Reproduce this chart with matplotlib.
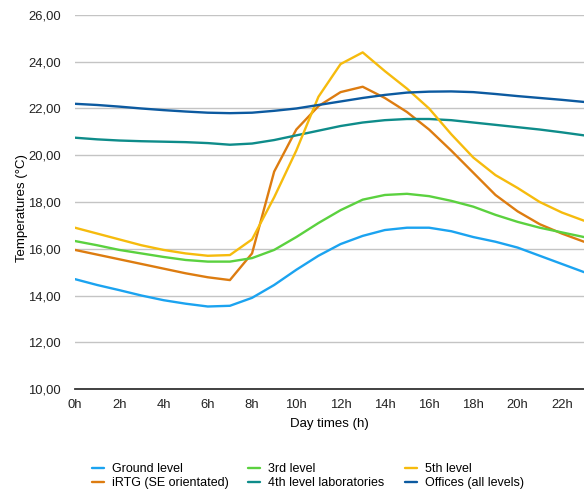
import numpy as np
import matplotlib.pyplot as plt
from matplotlib.ticker import FuncFormatter

plt.rcParams['font.family'] = ['Liberation Sans', 'DejaVu Sans']

hours = list(range(24))
ground = [14.7, 14.45, 14.23, 14.0, 13.8, 13.65, 13.53, 13.56, 13.9, 14.45, 15.1, 15.7,
          16.2, 16.55, 16.8, 16.9, 16.9, 16.75, 16.5, 16.3, 16.05, 15.7, 15.35, 15.0]
irtg = [15.95, 15.75, 15.55, 15.35, 15.15, 14.95, 14.78, 14.66, 15.8, 19.3, 21.1, 22.1,
        22.7, 22.93, 22.45, 21.85, 21.1, 20.2, 19.25, 18.3, 17.6, 17.05, 16.65, 16.3]
level3 = [16.33, 16.15, 15.95, 15.8, 15.65, 15.52, 15.45, 15.45, 15.6, 15.95, 16.5, 17.1,
          17.65, 18.1, 18.3, 18.35, 18.25, 18.05, 17.8, 17.45, 17.15, 16.9, 16.7, 16.5]
labs4 = [20.75, 20.68, 20.63, 20.6, 20.58, 20.56, 20.52, 20.45, 20.5, 20.65, 20.85, 21.05,
         21.25, 21.4, 21.5, 21.55, 21.55, 21.5, 21.4, 21.3, 21.2, 21.1, 20.98, 20.85]
level5 = [16.9, 16.65, 16.4, 16.15, 15.95, 15.8, 15.7, 15.73, 16.4, 18.2, 20.2, 22.5,
          23.9, 24.4, 23.6, 22.85, 22.0, 20.9, 19.9, 19.15, 18.6, 18.0, 17.55, 17.2]
offices = [22.2, 22.15, 22.08, 22.0, 21.93, 21.87, 21.82, 21.8, 21.82, 21.9, 22.0, 22.15,
           22.3, 22.45, 22.58, 22.68, 22.72, 22.73, 22.7, 22.62, 22.53, 22.45, 22.37, 22.28]

series = [
    ("Ground level", ground, "#1ba3f0"),
    ("iRTG (SE orientated)", irtg, "#dd7c10"),
    ("3rd level", level3, "#5bd13f"),
    ("4th level laboratories", labs4, "#0e8c8a"),
    ("5th level", level5, "#f6bb0d"),
    ("Offices (all levels)", offices, "#0c5aa0"),
]

fig = plt.figure(figsize=(5.84, 4.91), dpi=100)
ax = fig.add_axes([0.1284, 0.2077, 0.8716, 0.7618])

for name, vals, col in series:
    ax.plot(hours, vals, color=col, lw=1.7, label=name,
            solid_capstyle='round', solid_joinstyle='round')

ax.set_xlim(0, 23)
ax.set_ylim(10, 26)
ax.set_yticks(np.arange(10, 27, 2))
ax.set_xticks(range(0, 23, 2))
ax.set_xticklabels([f"{h}h" for h in range(0, 23, 2)])
ax.yaxis.set_major_formatter(FuncFormatter(lambda v, p: f"{v:.2f}".replace(".", ",")))

ax.grid(axis='y', color='#c4c4c4', lw=1.0)
ax.set_axisbelow(True)
for s in ['top', 'right', 'left']:
    ax.spines[s].set_visible(False)
ax.spines['bottom'].set_color('#333333')
ax.spines['bottom'].set_linewidth(1.3)
ax.tick_params(axis='both', length=0, labelsize=9.4, colors='#222222')
ax.tick_params(axis='y', pad=10)
ax.tick_params(axis='x', pad=7)

ax.set_xlabel("Day times (h)", fontsize=9.5, labelpad=5)
ax.set_ylabel("Temperatures (°C)", fontsize=9.5)
ax.yaxis.set_label_coords(-0.093, 0.485)

fig.legend(loc='upper left', bbox_to_anchor=(0.157, 0.057), ncol=3, frameon=False,
           fontsize=9, handlelength=0.95, handletextpad=0.65, columnspacing=1.6,
           labelspacing=0.15, borderaxespad=0, borderpad=0)

fig.savefig("out.png", dpi=100)
